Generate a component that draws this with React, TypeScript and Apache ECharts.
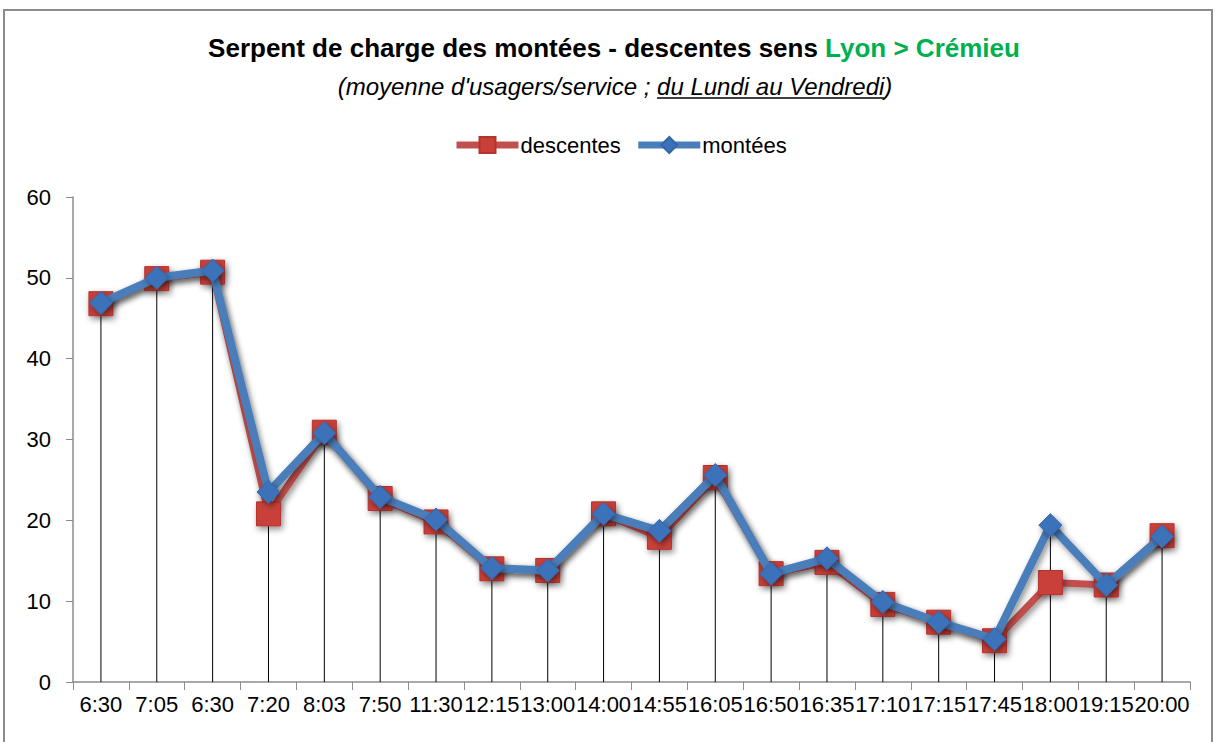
import React, { useEffect, useRef } from "react";
import * as echarts from "echarts";

const categories = ["6:30", "7:05", "6:30", "7:20", "8:03", "7:50", "11:30", "12:15", "13:00", "14:00", "14:55", "16:05", "16:50", "16:35", "17:10", "17:15", "17:45", "18:00", "19:15", "20:00"];
const descentes = [46.8, 49.9, 50.7, 20.8, 30.9, 22.7, 19.8, 14.0, 13.8, 20.8, 17.9, 25.3, 13.4, 14.8, 9.6, 7.4, 5.1, 12.3, 12.0, 18.1];
const montees = [46.9, 50.0, 50.9, 23.5, 30.8, 22.9, 20.1, 14.1, 13.8, 20.8, 18.7, 25.6, 13.4, 15.3, 9.9, 7.4, 5.3, 19.4, 12.0, 18.0];

const titleMain = "Serpent de charge des montées - descentes sens ";
const titleGreen = "Lyon > Crémieu";
const subPre = "(moyenne d'usagers/service ; ";
const subUnder = "du Lundi au Vendredi";
const subPost = ")";

const FONT = "'Liberation Sans', Arial, sans-serif";

function measure(text: string, font: string): number {
  const c = document.createElement("canvas");
  const ctx = c.getContext("2d");
  if (!ctx) return text.length * 10;
  ctx.font = font;
  return ctx.measureText(text).width;
}

export default function App() {
  const ref = useRef<HTMLDivElement>(null);
  useEffect(() => {
    if (!ref.current) return;
    const chart = echarts.init(ref.current, undefined, { renderer: "svg" });
    const dropTops = descentes.map((d, i) => Math.max(d, montees[i]));

    const subSize = 24;
    const subFont = `italic ${subSize}px 'Liberation Sans'`;
    const subCx = 615;
    const subCy = 86;
    const wPre = measure(subPre, subFont);
    const wUnder = measure(subUnder, subFont);
    const wPost = measure(subPost, subFont);
    const subStart = subCx - (wPre + wUnder + wPost) / 2;
    const ux1 = subStart + wPre;
    const ux2 = ux1 + wUnder;
    const uy = subCy + subSize * 0.5;

    const shadow = {
      shadowBlur: 6,
      shadowColor: "rgba(0,0,0,0.45)",
      shadowOffsetX: 2,
      shadowOffsetY: 3,
    };

    chart.setOption({
      animation: false,
      backgroundColor: "#ffffff",
      textStyle: { fontFamily: FONT },
      graphic: [
        {
          type: "rect",
          shape: { x: 4, y: 10, width: 1208, height: 760 },
          style: { fill: "none", stroke: "#8c8c8c", lineWidth: 2 },
          silent: true,
        },
        {
          type: "text",
          x: 614,
          y: 48,
          style: {
            text: `{a|${titleMain}}{b|${titleGreen}}`,
            align: "center",
            verticalAlign: "middle",
            rich: {
              a: { fontSize: 26, fontWeight: "bold", fill: "#000", fontFamily: FONT },
              b: { fontSize: 26, fontWeight: "bold", fill: "#00B050", fontFamily: FONT },
            },
          },
        },
        {
          type: "text",
          x: subCx,
          y: subCy,
          style: {
            text: subPre + subUnder + subPost,
            align: "center",
            verticalAlign: "middle",
            fontSize: subSize,
            fontStyle: "italic",
            fontFamily: FONT,
            fill: "#000",
          },
        },
        {
          type: "line",
          shape: { x1: ux1, y1: uy, x2: ux2, y2: uy },
          style: { stroke: "#000", lineWidth: 1.5 },
          silent: true,
        },
      ],
      legend: {
        data: [
          { name: "descentes", lineStyle: { width: 7 } },
          { name: "montées", lineStyle: { width: 7 } },
        ],
        left: 448,
        top: 129,
        itemWidth: 62,
        itemHeight: 20,
        itemGap: 14,
        textStyle: { fontSize: 22, color: "#000", fontFamily: FONT, padding: [0, 0, 0, -3] },
      },
      grid: { left: 73, right: 25, top: 197, bottom: 60, containLabel: false },
      xAxis: {
        type: "category",
        data: categories,
        boundaryGap: true,
        axisLine: { lineStyle: { color: "#8c8c8c", width: 1.5 } },
        axisTick: { show: true, interval: 0, length: 8, lineStyle: { color: "#8c8c8c" } },
        axisLabel: { interval: 0, fontSize: 22, color: "#000", margin: 11, fontFamily: FONT },
        splitLine: { show: false },
      },
      yAxis: {
        type: "value",
        min: 0,
        max: 60,
        interval: 10,
        axisLine: { show: true, lineStyle: { color: "#8c8c8c", width: 1.5 } },
        axisTick: { show: true, length: 7, lineStyle: { color: "#8c8c8c" } },
        axisLabel: { fontSize: 22, color: "#000", margin: 22, fontFamily: FONT },
        splitLine: { show: false },
      },
      series: [
        {
          name: "drop",
          type: "bar",
          data: dropTops,
          barWidth: 1,
          itemStyle: { color: "#000" },
          silent: true,
          z: 1,
        },
        {
          name: "descentes",
          type: "line",
          data: descentes,
          symbol: "rect",
          symbolSize: 24,
          z: 3,
          lineStyle: { color: "#C0504D", width: 7, ...shadow },
          itemStyle: { color: "#C9403A", borderColor: "#B5322D", borderWidth: 1, ...shadow },
        },
        {
          name: "montées",
          type: "line",
          data: montees,
          symbol: "diamond",
          symbolSize: 23,
          z: 4,
          lineStyle: { color: "#4A7EBB", width: 8, ...shadow },
          itemStyle: { color: "#3B72B9", borderColor: "#3467AA", borderWidth: 1, ...shadow },
        },
      ],
    });
    return () => chart.dispose();
  }, []);
  return (
    <div
      ref={ref}
      style={{ position: "fixed", left: 0, top: 0, width: 1215, height: 742 }}
    />
  );
}
